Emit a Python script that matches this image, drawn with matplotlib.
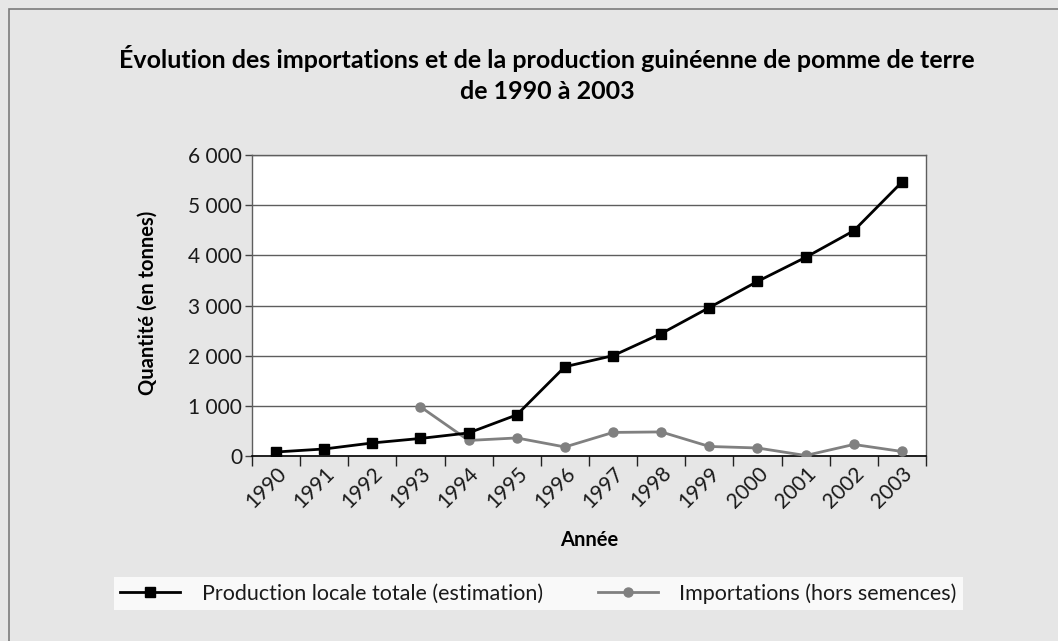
import numpy as np
import matplotlib
matplotlib.use("Agg")
import matplotlib.pyplot as plt
from matplotlib.patches import Rectangle
from matplotlib.ticker import FuncFormatter, MultipleLocator

plt.rcParams['font.family'] = ['Lato', 'DejaVu Sans']

years = ['1990', '1991', '1992', '1993', '1994', '1995', '1996', '1997',
         '1998', '1999', '2000', '2001', '2002', '2003']
production = [80, 140, 260, 350, 460, 820, 1780, 2000, 2440, 2960, 3480, 3960, 4490, 5460]
imports = [np.nan, np.nan, np.nan, 980, 310, 360, 180, 470, 480, 190, 160, 10, 230, 90]

title = "Évolution des importations et de la production guinéenne de pomme de terre\nde 1990 à 2003"
ylabel = "Quantité (en tonnes)"
xlabel = "Année"
labels = ["Production locale totale (estimation)", "Importations (hors semences)"]

W, H = 1058, 641
fig = plt.figure(figsize=(W / 100, H / 100), dpi=100)
fig.patch.set_facecolor('#e6e6e6')
fig.patches.append(Rectangle((8.5 / W, -0.01), 1.02, 1 - 8.5 / H + 0.01, transform=fig.transFigure,
                             fill=False, edgecolor='#7a7a7a', linewidth=1.2))

ax = fig.add_axes([252 / W, 1 - 456 / H, 674 / W, 301 / H])
x = np.arange(len(years))
ax.plot(x, production, color='black', lw=2.0, marker='s', ms=6.5, label=labels[0], zorder=4)
ax.plot(x, imports, color='#808080', lw=2.0, marker='o', ms=6.5, label=labels[1], zorder=3)

ax.set_xlim(-0.5, len(years) - 0.5)
ax.set_ylim(0, 6000)
ax.yaxis.set_major_locator(MultipleLocator(1000))
ax.yaxis.set_major_formatter(FuncFormatter(lambda v, p: f"{int(v):,}".replace(",", " ")))
ax.grid(axis='y', color='#5e5e5e', lw=1.0, zorder=0)
ax.set_axisbelow(True)

ax.set_xticks(np.arange(-0.5, len(years), 1.0))
ax.set_xticklabels([])
ax.set_xticks(x, minor=True)
ax.set_xticklabels(years, minor=True, rotation=45, ha='right', va='top',
                   rotation_mode='anchor', fontsize=15, color='#1a1a1a')
ax.tick_params(axis='x', which='minor', length=0, pad=5)
ax.tick_params(axis='x', which='major', length=7, width=1.0, color='#222222', direction='out')
ax.tick_params(axis='y', length=5, width=1.0, color='#444444', labelsize=15,
               labelcolor='#1a1a1a', pad=2)

for s in ['left', 'right', 'top']:
    ax.spines[s].set_color('#5e5e5e')
    ax.spines[s].set_linewidth(1.0)
ax.spines['bottom'].set_color('black')
ax.spines['bottom'].set_linewidth(1.2)

fig.text(547 / W, 1 - 74 / H, title, ha='center', va='center', fontsize=18,
         fontweight='bold', linespacing=1.4)
fig.text(148 / W, 1 - 303 / H, ylabel, ha='center', va='center', rotation=90,
         fontsize=14.5, fontweight='bold')
fig.text(589 / W, 1 - 540 / H, xlabel, ha='center', va='center', fontsize=14.5,
         fontweight='bold')

leg = fig.legend(loc='center', bbox_to_anchor=(103 / W, 1 - 612 / H, 871 / W, 37 / H),
                 mode='expand', ncol=2, frameon=True, fancybox=False, fontsize=15.5,
                 handlelength=2.8, handletextpad=1.0, borderpad=0.3, columnspacing=2)
leg.get_frame().set_facecolor('white')
leg.get_frame().set_edgecolor('white')
leg.get_frame().set_linewidth(0)
for t in leg.get_texts():
    t.set_color('#1a1a1a')

fig.savefig('out.png', dpi=100, facecolor=fig.get_facecolor())
